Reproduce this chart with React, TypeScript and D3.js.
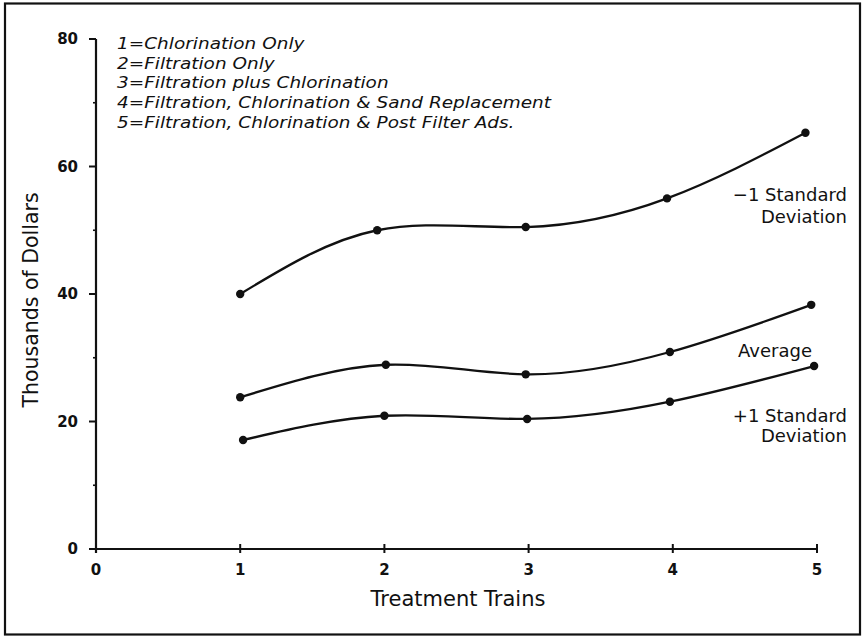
import React from "react";
import * as d3 from "d3";

const W = 862;
const H = 637;

const xTicks = [0, 1, 2, 3, 4, 5];
const yTicks = [0, 20, 40, 60, 80];
const yMinorTicks = [10, 30, 50, 70];

const legendLines = [
  "1=Chlorination Only",
  "2=Filtration Only",
  "3=Filtration plus Chlorination",
  "4=Filtration, Chlorination & Sand Replacement",
  "5=Filtration, Chlorination & Post Filter Ads.",
];

// -1 Standard Deviation (upper curve)
const minusSdX = [1, 1.95, 2.98, 3.96, 4.92];
const minusSdY = [40, 50, 50.5, 55, 65.3];
// Average
const avgX = [1, 2.01, 2.98, 3.98, 4.96];
const avgY = [23.8, 28.9, 27.4, 30.9, 38.3];
// +1 Standard Deviation (lower curve)
const plusSdX = [1.02, 2.0, 2.99, 3.98, 4.98];
const plusSdY = [17.1, 20.9, 20.4, 23.1, 28.7];

const seriesList = [
  { name: "minus", xs: minusSdX, ys: minusSdY },
  { name: "avg", xs: avgX, ys: avgY },
  { name: "plus", xs: plusSdX, ys: plusSdY },
];

const FONT = "'DejaVu Sans', 'Noto Sans', sans-serif";

export default function App() {
  const x = d3.scaleLinear().domain([0, 5]).range([96, 817]);
  const y = d3.scaleLinear().domain([0, 80]).range([549, 39]);

  const line = d3
    .line<[number, number]>()
    .x((d) => x(d[0]))
    .y((d) => y(d[1]))
    .curve(d3.curveNatural);

  return (
    <svg
      width={W}
      height={H}
      style={{ position: "absolute", left: 0, top: 0, background: "#fff" }}
      fontFamily={FONT}
    >
      <rect x={0} y={0} width={W} height={H} fill="#fff" />
      {/* outer frame */}
      <rect x={5} y={3.5} width={855} height={631} fill="none" stroke="#111" strokeWidth={2.2} />

      {/* y axis */}
      <line x1={x(0)} x2={x(0)} y1={y(0) + 4} y2={y(80)} stroke="#111" strokeWidth={2.2} />
      {yTicks.map((t) => (
        <g key={"yt" + t}>
          <line x1={x(0) - 7} x2={x(0)} y1={y(t)} y2={y(t)} stroke="#111" strokeWidth={2} />
          <text
            x={x(0) - 18}
            y={y(t)}
            dy="0.36em"
            textAnchor="end"
            fontSize={15}
            fontWeight="bold"
            fill="#111"
          >
            {t}
          </text>
        </g>
      ))}
      {yMinorTicks.map((t) => (
        <line key={"ym" + t} x1={x(0) - 3} x2={x(0)} y1={y(t)} y2={y(t)} stroke="#111" strokeWidth={1.6} />
      ))}

      {/* x axis */}
      <line x1={x(0)} x2={x(5)} y1={y(0)} y2={y(0)} stroke="#111" strokeWidth={2.2} />
      {xTicks.map((t) => (
        <g key={"xt" + t}>
          <line x1={x(t)} x2={x(t)} y1={y(0) - 5} y2={y(0) + 4} stroke="#111" strokeWidth={2} />
          <text
            x={x(t)}
            y={y(0) + 26}
            textAnchor="middle"
            fontSize={15}
            fontWeight="bold"
            fill="#111"
          >
            {t}
          </text>
        </g>
      ))}

      {/* axis titles */}
      <text x={458} y={606} textAnchor="middle" fontSize={21} fill="#111">
        Treatment Trains
      </text>
      <text
        transform={`translate(38, 300) rotate(-90)`}
        textAnchor="middle"
        fontSize={20.5}
        fill="#111"
      >
        Thousands of Dollars
      </text>

      {/* legend text */}
      <g transform="translate(117,0) scale(1.12,1)">
        {legendLines.map((s, i) => (
          <text
            key={"lg" + i}
            x={0}
            y={49 + i * 19.7}
            fontSize={16.5}
            fontStyle="italic"
            fill="#111"
          >
            {s}
          </text>
        ))}
      </g>

      {/* curves */}
      {seriesList.map((s) => {
        const pts: [number, number][] = s.xs.map((v, i) => [v, s.ys[i]]);
        return (
          <g key={s.name}>
            <path d={line(pts) || ""} fill="none" stroke="#111" strokeWidth={2.3} />
            {pts.map((p, i) => (
              <circle key={i} cx={x(p[0])} cy={y(p[1])} r={4.2} fill="#111" />
            ))}
          </g>
        );
      })}

      {/* series labels */}
      <g fontSize={18} fill="#111">
        <text x={847} y={201} textAnchor="end">−1 Standard</text>
        <text x={847} y={223} textAnchor="end">Deviation</text>
        <text x={812} y={357} textAnchor="end">Average</text>
        <text x={847} y={422} textAnchor="end">+1 Standard</text>
        <text x={847} y={442} textAnchor="end">Deviation</text>
      </g>
    </svg>
  );
}
